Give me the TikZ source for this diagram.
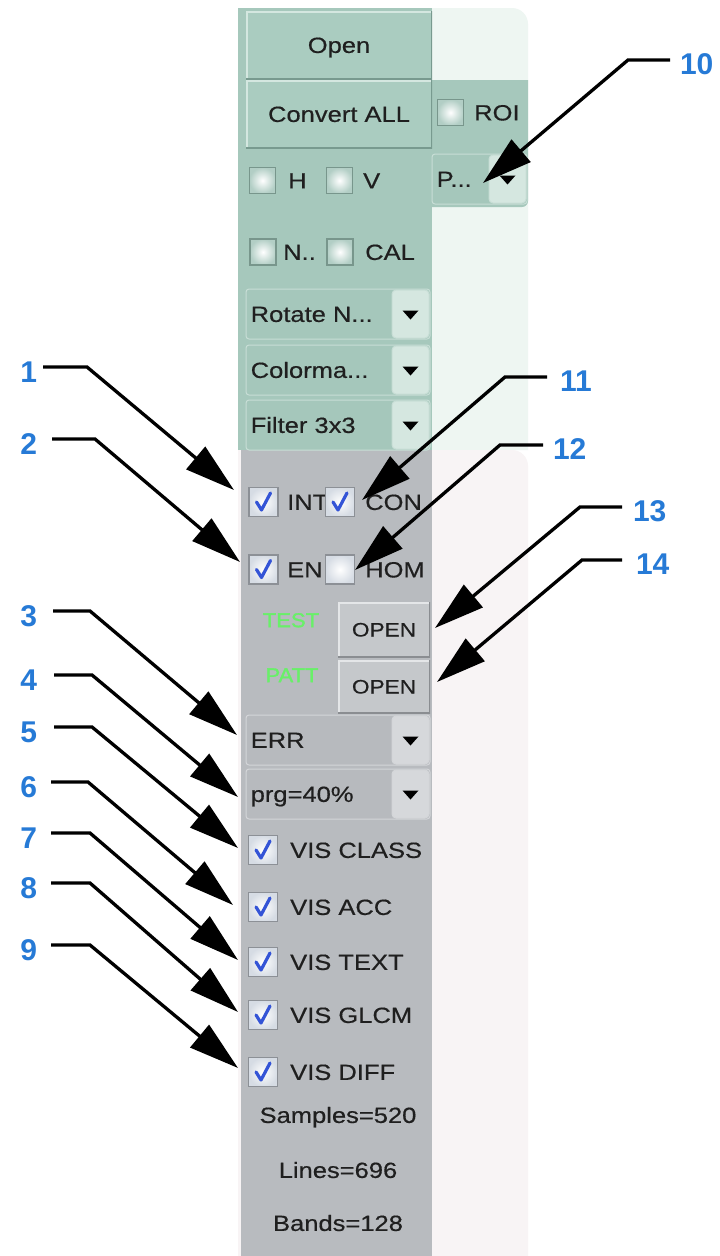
\documentclass[tikz,border=0pt]{standalone}
\usepackage{fontspec}
\setmainfont{Liberation Sans}
\newfontfamily\guifont{Liberation Sans}[FakeStretch=1.16, FakeBold=0.5]
\newfontfamily\tagfont{Liberation Sans}[FakeStretch=1.1, FakeBold=1.5]
\newfontfamily\numfont{Liberation Sans}
\usetikzlibrary{arrows.meta}

% palette: g = green upper panel, p = grey lower panel
\definecolor{glight}{RGB}{238,246,242}
\definecolor{pinkbg}{RGB}{248,244,245}
\definecolor{gpanel}{RGB}{166,200,188}
\definecolor{gbtn}{RGB}{170,204,192}
\definecolor{gbtnhi}{RGB}{212,231,224}
\definecolor{gbtnlo}{RGB}{120,154,143}
\definecolor{gfield}{RGB}{165,199,187}
\definecolor{gedge}{RGB}{200,222,214}
\definecolor{gddb}{RGB}{213,231,224}
\definecolor{gchkout}{RGB}{178,206,197}
\definecolor{gchkline}{RGB}{120,150,140}
\definecolor{ppanel}{RGB}{184,187,191}
\definecolor{pbtn}{RGB}{197,200,203}
\definecolor{pbtnhi}{RGB}{228,230,232}
\definecolor{pbtnlo}{RGB}{138,141,145}
\definecolor{pfield}{RGB}{183,186,190}
\definecolor{pedge}{RGB}{212,214,217}
\definecolor{pddb}{RGB}{214,216,219}
\definecolor{pchkout}{RGB}{214,220,228}
\definecolor{pchkline}{RGB}{140,144,150}
\definecolor{ticc}{RGB}{52,84,214}
\definecolor{numblue}{RGB}{38,122,214}
\definecolor{labgreen}{RGB}{104,240,104}

\newcommand\ddbox[5]{% name, centre, width, text, palette
  \node[field=#5, minimum width=#3, minimum height=50pt] (#1) at #2 {};
  \node[ddbtn=#5, anchor=east, minimum width=37pt, minimum height=48pt] (#1b) at ([xshift=-1pt]#1.east) {};
  \fill[black] ([shift={(-8pt,3.5pt)}]#1b.center) -- ([shift={(8pt,3.5pt)}]#1b.center) -- ([shift={(0pt,-5.5pt)}]#1b.center) -- cycle;
  \node[gui, anchor=west] (#1t) at ([xshift=5pt]#1.west) {#4};
}
\newcommand\tickmark[1]{%
  \draw[tic] ([shift={(-7pt,0pt)}]#1.center) -- ([shift={(-2pt,-8pt)}]#1.center) -- ([shift={(7pt,9pt)}]#1.center);
}

\begin{document}
\begin{tikzpicture}[x=1pt, y=-1pt,
  gui/.style={font=\guifont\fontsize{22}{24}\selectfont, inner sep=0pt, text height=15.8pt, text depth=0pt, text=black!88},
  guis/.style={gui, font=\guifont\fontsize{19.5}{22}\selectfont, text height=14pt},
  tag/.style={gui, font=\tagfont\fontsize{20}{22}\selectfont, text height=14.3pt, text=labgreen},
  bevel/.style n args={3}{fill=#1, path picture={
    \draw[#2, line width=3pt] (path picture bounding box.south west) -- (path picture bounding box.north west) -- (path picture bounding box.north east);
    \draw[#3, line width=3pt] (path picture bounding box.north east) -- (path picture bounding box.south east) -- (path picture bounding box.south west);}},
  gbutton/.style={bevel={gbtn}{gbtnhi}{gbtnlo}, gui},
  pbutton/.style={bevel={pbtn}{pbtnhi}{pbtnlo}, guis},
  field/.style={fill=#1field, draw=#1edge, line width=1pt, rounded corners=3pt, inner sep=0pt},
  ddbtn/.style={fill=#1ddb, draw=#1edge, line width=1pt, rounded corners=4pt, inner sep=0pt},
  gchk/.style={draw=gchkline, line width=1.2pt, minimum size=26pt, inner sep=0pt, inner color=white, outer color=gchkout},
  pchk/.style={draw=pchkline, line width=1.2pt, minimum size=29pt, inner sep=0pt, inner color=white, outer color=pchkout},
  tic/.style={draw=ticc, line width=3.2pt, line cap=round, line join=round},
  num/.style={font=\numfont\bfseries\fontsize{30}{32}\selectfont, text=numblue, inner sep=0pt, text height=21.5pt, text depth=0pt},
  callout/.style={draw=black, line width=3.3pt, -{Triangle[length=50pt,width=29pt]}}
]
\useasboundingbox (0,0) rectangle (720,1256);
\fill[white] (0,0) rectangle (720,1256);

% pale backgrounds to the right of the panels
\fill[glight] (238,450) -- (238,8) -- (512,8) arc[start angle=90, end angle=0, radius=16pt] -- (528,450) -- cycle;
\fill[pinkbg] (238,1256) -- (238,450) -- (512,450) arc[start angle=90, end angle=0, radius=16pt] -- (528,1256) -- cycle;

% panels
\fill[gpanel] (238,8) rectangle (432,450);
\fill[gpanel] (432,80) -- (528,80) -- (528,201) arc[start angle=0, end angle=-90, radius=6pt] -- (432,207) -- cycle;
\fill[ppanel] (241,450) rectangle (432,1256);

% upper panel controls
\node[gbutton, minimum width=186pt, minimum height=68pt] (bOpen) at (339,45) {Open};
\node[gbutton, minimum width=186pt, minimum height=68pt] (bConv) at (339,114) {Convert ALL};

\node[gchk] (cROI) at (450.5,112.5) {};
\node[gui, anchor=west] (tROI) at (474,112.5) {ROI};
\ddbox{ddP}{(479.5,179)}{95pt}{P...}{g}

\node[gchk] (cH) at (262.5,180.5) {};
\node[gui, anchor=west] (tH) at (288,180.5) {H};
\node[gchk] (cV) at (339.5,180.5) {};
\node[gui, anchor=west] (tV) at (363,180.5) {V};

\node[gchk] (cN) at (263,252) {};
\node[gui, anchor=west] (tN) at (283,252) {N..};
\node[gchk] (cCAL) at (340,252) {};
\node[gui, anchor=west] (tCAL) at (365,252) {CAL};

\ddbox{ddRot}{(338,314)}{184pt}{Rotate N...}{g}
\ddbox{ddCol}{(338,370)}{184pt}{Colorma...}{g}
\ddbox{ddFil}{(338,425)}{184pt}{Filter 3x3}{g}

% lower panel controls
\node[pchk] (cINT) at (263.5,502) {};
\tickmark{cINT}
\node[gui, anchor=west] (tINT) at (287,502) {INT};
\node[pchk] (cCON) at (340,502) {};
\tickmark{cCON}
\node[gui, anchor=west] (tCON) at (365,502) {CON};

\node[pchk] (cEN) at (263.5,569.5) {};
\tickmark{cEN}
\node[gui, anchor=west] (tEN) at (287,569.5) {EN};
\node[pchk] (cHOM) at (340,569.5) {};
\node[gui, anchor=west] (tHOM) at (365,569.5) {HOM};

\node[tag] (tTEST) at (291,620) {TEST};
\node[pbutton, minimum width=92pt, minimum height=55pt] (bTest) at (384,629.5) {OPEN};
\node[tag] (tPATT) at (292,675) {PATT};
\node[pbutton, minimum width=92pt, minimum height=53pt] (bPatt) at (384,686.5) {OPEN};

\ddbox{ddErr}{(338,740)}{184pt}{ERR}{p}
\ddbox{ddPrg}{(338,794)}{184pt}{prg=40\%}{p}

\foreach \nm/\yy/\txt in {VC/850/VIS CLASS, VA/907/VIS ACC, VT/962/VIS TEXT, VG/1015/VIS GLCM, VD/1072/VIS DIFF}{
  \node[pchk] (c\nm) at (263,\yy) {};
  \tickmark{c\nm}
  \node[gui, anchor=west] (t\nm) at (290,\yy) {\txt};
}

\node[gui] (tSamp) at (338,1115) {Samples=520};
\node[gui] (tLine) at (338,1170) {Lines=696};
\node[gui] (tBand) at (338,1223) {Bands=128};

% numbered callouts on the left
\foreach \n/\g/\ly/\cx/\tx/\ty in {
  1/6/367/87/234/490,
  2/15/439/95/240/562,
  3/16/611/90/237/735,
  4/17/675/92/238/797,
  5/17/727/92/238/848,
  6/14/782/88/233/905,
  7/14/833/90/238/960,
  8/14/883/90/238/1012,
  9/14/945/90/238/1068}{
  \node[num, anchor=east, outer xsep=\g pt] (lab\n) at (37+\g,\ly+5) {\n};
  \coordinate (k\n) at (\cx,\ly);
  \coordinate (tip\n) at (\tx,\ty);
  \draw[callout] (lab\n.east |- k\n) -- (k\n) -- (tip\n);
}

% numbered callouts on the right
\foreach \n/\g/\sx/\ly/\cx/\tx/\ty in {
  10/10/670/60/628/483/183,
  11/13/547/377/505/362/500,
  12/10/543/445/500/355/570,
  13/11/622/507/580/435/628,
  14/14/622/560/582/437/682}{
  \node[num, anchor=west, outer xsep=\g pt] (lab\n) at (\sx,\ly+4) {\n};
  \coordinate (k\n) at (\cx,\ly);
  \coordinate (tip\n) at (\tx,\ty);
  \draw[callout] (lab\n.west |- k\n) -- (k\n) -- (tip\n);
}
\end{tikzpicture}
\end{document}
